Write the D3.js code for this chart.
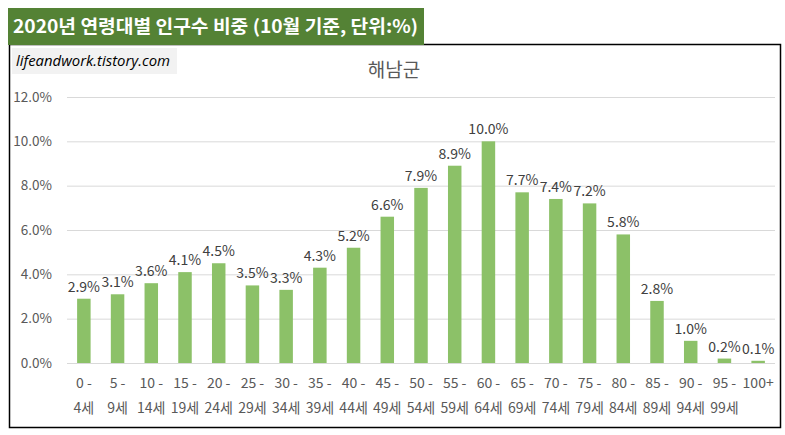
<!DOCTYPE html>
<html>
<head>
<meta charset="utf-8">
<script src="https://cdn.jsdelivr.net/npm/d3@7"></script>
<style>
  body { margin: 0; background: #fff; }
  svg { font-family: "Noto Sans CJK KR", "Noto Sans", sans-serif; }
</style>
</head>
<body>
<svg width="785" height="435"></svg>
<script>
var ageTop = ["0 -", "5 -", "10 -", "15 -", "20 -", "25 -", "30 -", "35 -", "40 -", "45 -",
              "50 -", "55 -", "60 -", "65 -", "70 -", "75 -", "80 -", "85 -", "90 -", "95 -", "100+"];
var ageBottom = ["4세", "9세", "14세", "19세", "24세", "29세", "34세", "39세", "44세", "49세",
                 "54세", "59세", "64세", "69세", "74세", "79세", "84세", "89세", "94세", "99세", ""];
var shares = [2.9, 3.1, 3.6, 4.1, 4.5, 3.5, 3.3, 4.3, 5.2, 6.6,
              7.9, 8.9, 10.0, 7.7, 7.4, 7.2, 5.8, 2.8, 1.0, 0.2, 0.1];
var yTicks = [0, 2, 4, 6, 8, 10, 12];

var svg = d3.select("svg");
var categories = ageTop.map(function(d, i) { return i; });

var x = d3.scaleBand()
    .domain(categories)
    .range([67, 775])
    .paddingInner(0.6)
    .paddingOuter(0.3);

var y = d3.scaleLinear()
    .domain([0, 12])
    .range([363, 97]);

// frame
svg.append("rect")
    .attr("x", 9.5).attr("y", 44.5)
    .attr("width", 771).attr("height", 383)
    .attr("fill", "#fff")
    .attr("stroke", "#000")
    .attr("stroke-width", 1.5);

// title banner
svg.append("rect")
    .attr("x", 8).attr("y", 8)
    .attr("width", 416).attr("height", 37)
    .attr("fill", "#548235");
svg.append("text")
    .attr("x", 13).attr("y", 33)
    .attr("fill", "#fff")
    .attr("font-size", 18)
    .attr("font-weight", "bold")
    .attr("textLength", 405)
    .attr("lengthAdjust", "spacingAndGlyphs")
    .text("2020년 연령대별 인구수 비중 (10월 기준, 단위:%)");

// watermark
svg.append("rect")
    .attr("x", 12).attr("y", 48)
    .attr("width", 165).attr("height", 26)
    .attr("fill", "#f2f2f2");
svg.append("text")
    .attr("x", 16).attr("y", 66)
    .attr("fill", "#000")
    .attr("font-size", 14)
    .attr("font-style", "italic")
    .attr("font-family", "'Open Sans', sans-serif")
    .attr("textLength", 154)
    .attr("lengthAdjust", "spacingAndGlyphs")
    .text("lifeandwork.tistory.com");

// chart title
svg.append("text")
    .attr("x", 394).attr("y", 77)
    .attr("text-anchor", "middle")
    .attr("fill", "#595959")
    .attr("font-size", 19)
    .text("해남군");

// y axis with gridlines
var yAxis = d3.axisLeft(y)
    .tickValues(yTicks)
    .tickSize(-(775 - 67))
    .tickPadding(15)
    .tickFormat(function(d) { return d.toFixed(1) + "%"; });

var gy = svg.append("g")
    .attr("transform", "translate(67,0)")
    .call(yAxis);
gy.select(".domain").remove();
gy.selectAll(".tick line").attr("stroke", "#d9d9d9");
gy.selectAll(".tick text")
    .attr("fill", "#595959")
    .attr("font-size", 13.5)
    .attr("font-family", "'Noto Sans CJK KR', sans-serif");

// bars
svg.append("g").selectAll("rect")
    .data(shares)
    .join("rect")
    .attr("x", function(d, i) { return x(i); })
    .attr("y", function(d) { return y(d); })
    .attr("width", x.bandwidth())
    .attr("height", function(d) { return y(0) - y(d); })
    .attr("fill", "#8cc168");

// value labels
svg.append("g").selectAll("text")
    .data(shares)
    .join("text")
    .attr("x", function(d, i) { return x(i) + x.bandwidth() / 2; })
    .attr("y", function(d) { return y(d) - 7; })
    .attr("text-anchor", "middle")
    .attr("fill", "#404040")
    .attr("font-size", 14)
    .text(function(d) { return d.toFixed(1) + "%"; });

// x axis labels, two lines each
var gx = svg.append("g").selectAll("g")
    .data(categories)
    .join("g")
    .attr("transform", function(d) { return "translate(" + (x(d) + x.bandwidth() / 2) + ",0)"; });
gx.append("text")
    .attr("y", 388)
    .attr("text-anchor", "middle")
    .attr("fill", "#595959")
    .attr("font-size", 14)
    .text(function(d) { return ageTop[d]; });
gx.append("text")
    .attr("y", 413)
    .attr("text-anchor", "middle")
    .attr("fill", "#595959")
    .attr("font-size", 14)
    .text(function(d) { return ageBottom[d]; });
</script>
</body>
</html>
